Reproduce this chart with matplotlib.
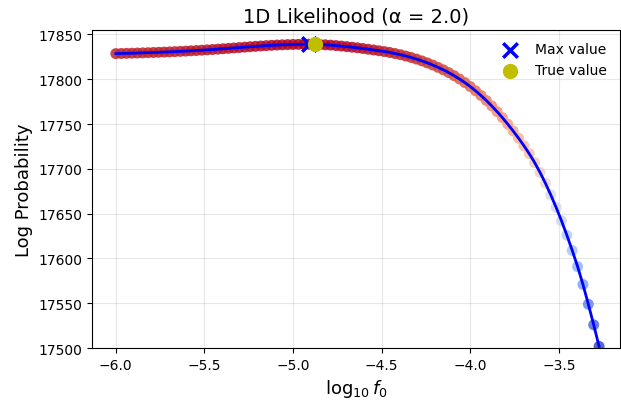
import numpy as np
import matplotlib
matplotlib.use("Agg")
import matplotlib.pyplot as plt

# sample grid in log10 f0 (only the samples above 17500 are visible)
log_f0 = np.linspace(-6.0, -3.0, 100)[:91]

log_prob = np.array([
    17828.50, 17828.65, 17828.81, 17828.98, 17829.16, 17829.35, 17829.55, 17829.76,
    17829.98, 17830.21, 17830.45, 17830.71, 17830.99, 17831.29, 17831.61, 17831.95,
    17832.31, 17832.69, 17833.09, 17833.51, 17833.94, 17834.38, 17834.83, 17835.28,
    17835.73, 17836.17, 17836.60, 17837.01, 17837.39, 17837.74, 17838.05, 17838.32,
    17838.54, 17838.71, 17838.83, 17838.90, 17838.93, 17838.85, 17838.65, 17838.35,
    17837.95, 17837.45, 17836.90, 17836.30, 17835.65, 17834.95, 17834.20, 17833.40,
    17832.55, 17831.70, 17830.80, 17829.80, 17828.60, 17827.30, 17825.80, 17824.20,
    17822.40, 17820.40, 17818.20, 17815.80, 17813.20, 17810.40, 17807.30, 17803.90,
    17800.20, 17796.20, 17791.80, 17787.00, 17781.80, 17776.20, 17770.20, 17763.80,
    17757.00, 17749.80, 17742.20, 17734.20, 17725.80, 17716.80, 17707.00, 17696.00,
    17684.00, 17671.00, 17657.00, 17642.00, 17626.00, 17609.00, 17591.00, 17571.00,
    17549.00, 17526.00, 17502.00,
])

true_log_f0 = -4.875
true_log_prob = 17839.0
alpha = 2.0

imax = np.argmax(log_prob)

fig = plt.figure(figsize=(6.21, 4.06), dpi=100)
ax = fig.add_axes([0.148, 0.140, 0.850, 0.784])

ax.scatter(log_f0, log_prob, c=log_prob, cmap="coolwarm", s=62, alpha=0.85,
           edgecolors="none", zorder=2)
ax.plot(log_f0, log_prob, color="blue", lw=2, zorder=3)
ax.scatter(log_f0[imax], log_prob[imax], marker="x", color="blue", s=110,
           linewidths=2.5, zorder=4, label="Max value")
ax.scatter(true_log_f0, true_log_prob, marker="o", color="#bfbf00", s=100,
           zorder=5, label="True value")

ax.set_xlim(-6.135, -3.156)
ax.set_ylim(17500, 17855)
ax.set_xticks([-6.0, -5.5, -5.0, -4.5, -4.0, -3.5])
ax.set_yticks(np.arange(17500, 17851, 50))
ax.grid(True, alpha=0.3)

ax.set_title(f"1D Likelihood (α = {alpha})", fontsize=14)
ax.set_xlabel(r"$\log_{10} f_0$", fontsize=13)
ax.set_ylabel("Log Probability", fontsize=13)
ax.legend(loc="upper right", frameon=False, fontsize=10)

fig.savefig("out.png", dpi=100)
